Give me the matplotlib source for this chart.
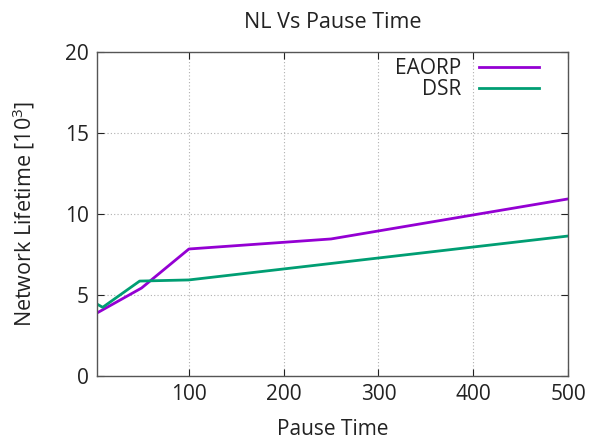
import matplotlib
matplotlib.use("Agg")
import matplotlib.pyplot as plt

plt.rcParams['font.family'] = ['Open Sans', 'DejaVu Sans']
plt.rcParams['mathtext.fontset'] = 'custom'
plt.rcParams['mathtext.rm'] = 'Open Sans'

pause_eaorp = [3, 50, 100, 250, 500]
nl_eaorp = [3.89, 5.43, 7.84, 8.46, 10.93]
pause_dsr = [3, 9, 48, 100, 500]
nl_dsr = [4.44, 4.24, 5.86, 5.93, 8.64]

x_ticks = [100, 200, 300, 400, 500]
y_ticks = [0, 5, 10, 15, 20]

fig = plt.figure(figsize=(5.9, 4.41), dpi=100)
ax = fig.add_axes([97/590, 1-376/441, (568-97)/590, (376-52)/441])

ax.plot(pause_eaorp, nl_eaorp, color='#9400D3', lw=2, label='EAORP')
ax.plot(pause_dsr, nl_dsr, color='#009E73', lw=2, label='DSR')

ax.set_xlim(3, 500)
ax.set_ylim(0, 20)
ax.set_xticks(x_ticks)
ax.set_yticks(y_ticks)
ax.grid(True, color='#b0b0b0', linestyle=(0, (1, 2)), lw=0.8)
ax.tick_params(direction='in', top=True, right=True, labelsize=15, colors='#222222', length=5, pad=6)
for s in ax.spines.values():
    s.set_color('#555555')
    s.set_linewidth(1)

ax.set_xlabel('Pause Time', fontsize=15, color='#222222', labelpad=10)
ax.set_ylabel('Network Lifetime [10$^\\mathregular{3}$]', fontsize=15.5, color='#222222', labelpad=20)
ax.set_title('NL Vs Pause Time', fontsize=15.5, color='#222222', pad=17)

leg = ax.legend(loc='upper right', bbox_to_anchor=(0.97, 1.025), frameon=False, markerfirst=False,
                fontsize=15, handlelength=2.9, handletextpad=0.85, labelspacing=0.0, borderpad=0.2)
for t in leg.get_texts():
    t.set_color('#222222')

fig.savefig('out.png', dpi=100)
